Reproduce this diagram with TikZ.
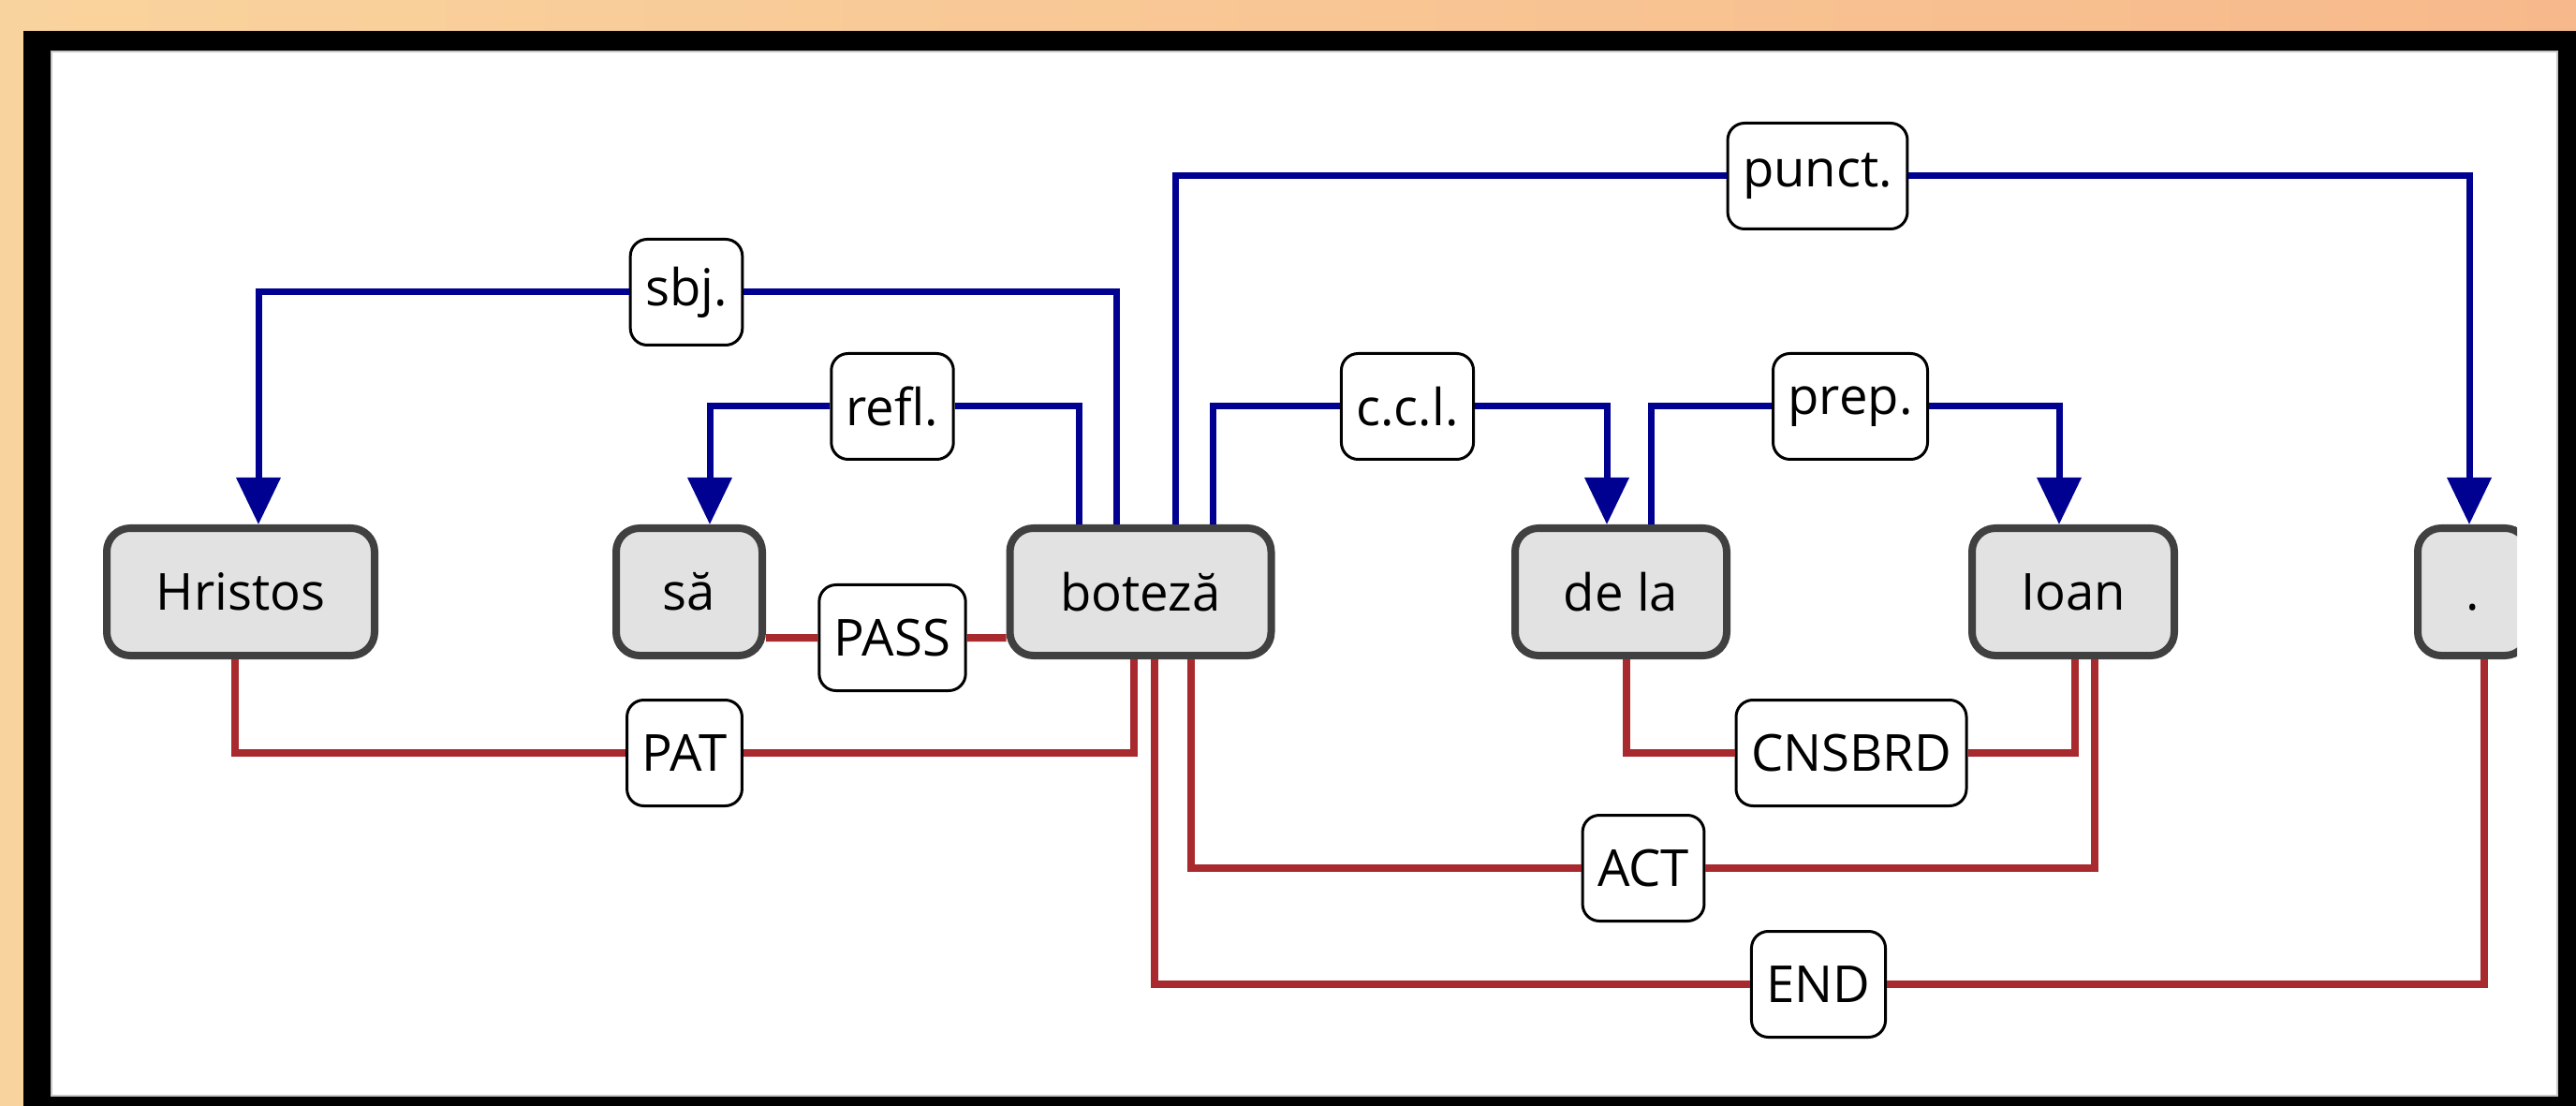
\documentclass[tikz,border=0pt]{standalone}
\usepackage{fontspec}
\setmainfont{Open Sans}
\usetikzlibrary{arrows.meta, positioning}

\definecolor{depblue}{RGB}{0,0,145}
\definecolor{semred}{RGB}{168,42,46}
\definecolor{wordfill}{RGB}{226,226,226}
\definecolor{wordline}{RGB}{64,64,64}
\definecolor{bgleft}{RGB}{249,211,157}
\definecolor{bgright}{RGB}{247,185,139}

\begin{document}
\begin{tikzpicture}[
    >=Stealth,
    txt/.style={font=\fontsize{15.5}{18}\selectfont},
    word/.style={txt, draw=wordline, line width=0.08cm, fill=wordfill, rounded corners=0.25cm, minimum height=1.36cm, inner sep=0pt},
    rel/.style={txt, draw=black, line width=0.03cm, fill=white, rounded corners=0.18cm, minimum height=1.13cm, inner xsep=0.16cm, inner ysep=0pt},
    dep/.style={draw=depblue, line width=0.07cm, -{Triangle[length=0.5cm, width=0.46cm]}},
    sem/.style={draw=semred, line width=0.08cm},
]
\useasboundingbox (0,0) rectangle (27.51,11.8);
% === Frame ===
\shade[left color=bgleft, right color=bgright] (0,0) rectangle (27.51,11.8);
\fill[black] (0.25,-0.5) rectangle (28.0,11.47);
\fill[white, draw=gray!45, line width=0.02cm] (0.55,0.10) rectangle (27.31,11.25);
% === Words ===
\node[word, minimum width=2.86cm] (hristos) at (2.57,5.48) {Hristos};
\node[word, minimum width=1.56cm] (sa) at (7.36,5.48) {să};
\node[word, minimum width=2.79cm] (boteza) at (12.18,5.48) {boteză};
\node[word, minimum width=2.26cm] (dela) at (17.31,5.48) {de la};
\node[word, minimum width=2.16cm] (ioan) at (22.14,5.48) {Ioan};
\begin{scope}
    \clip (0,0) rectangle (26.88,11.8);
    \node[word, minimum width=1.18cm] (dot) at (26.41,5.48) {\vphantom{H}.};
\end{scope}
% === Relation labels ===
\node[rel] (sbj) at (7.33,8.68) {sbj.};
\node[rel] (refl) at (9.53,7.46) {refl.};
\node[rel] (punct) at (19.41,9.92) {punct.};
\node[rel] (ccl) at (15.03,7.46) {c.c.l.};
\node[rel] (prep) at (19.76,7.46) {prep.};
\node[rel] (pass) at (9.53,4.99) {PASS};
\node[rel] (pat) at (7.31,3.76) {PAT};
\node[rel] (cnsbrd) at (19.77,3.76) {CNSBRD};
\node[rel] (act) at (17.55,2.53) {ACT};
\node[rel] (end) at (19.42,1.29) {END};
% === Dependencies (above) ===
\draw[dep] ([xshift=-0.26cm]boteza.north) |- (sbj) -| ([xshift=0.19cm]hristos.north);
\draw[dep] ([xshift=-0.66cm]boteza.north) |- (refl) -| ([xshift=0.22cm]sa.north);
\draw[dep] ([xshift=0.37cm]boteza.north) |- (punct) -| ([xshift=-0.04cm]dot.north);
\draw[dep] ([xshift=0.77cm]boteza.north) |- (ccl) -| ([xshift=-0.15cm]dela.north);
\draw[dep] ([xshift=0.32cm]dela.north) |- (prep) -| ([xshift=-0.15cm]ioan.north);
% === Semantic links (below) ===
\draw[sem] ([yshift=-0.49cm]sa.east) -- (pass) -- ([yshift=-0.49cm]boteza.west);
\draw[sem] ([xshift=-0.06cm]hristos.south) |- (pat) -| ([xshift=-0.07cm]boteza.south);
\draw[sem] ([xshift=0.06cm]dela.south) |- (cnsbrd) -| ([xshift=0.02cm]ioan.south);
\draw[sem] ([xshift=0.54cm]boteza.south) |- (act) -| ([xshift=0.23cm]ioan.south);
\draw[sem] ([xshift=0.15cm]boteza.south) |- (end) -| ([xshift=0.12cm]dot.south);
\end{tikzpicture}
\end{document}
